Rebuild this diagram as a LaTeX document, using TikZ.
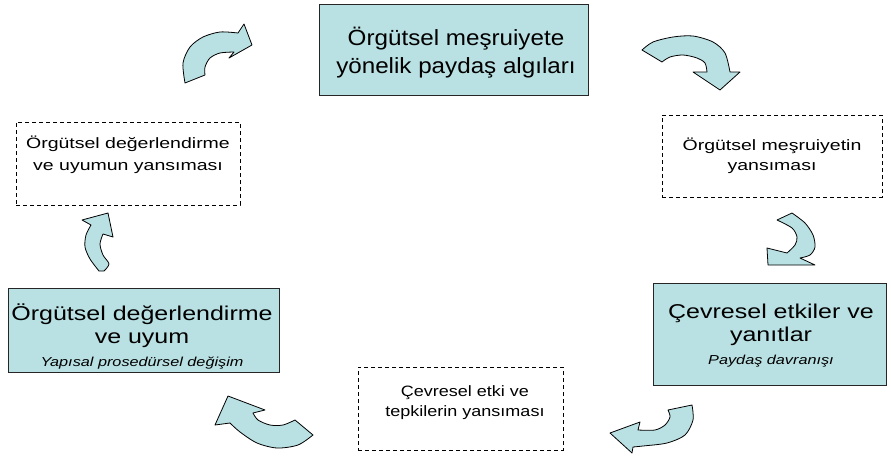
\documentclass[tikz,border=0pt]{standalone}
\usepackage{fontspec}
\setmainfont{Liberation Sans}
\usepackage{graphicx}
\definecolor{boxfill}{RGB}{185,224,226}
\newcommand\boxtext[4]{\scalebox{#1}[1]{\fontsize{#2}{#3}\selectfont\begin{tabular}{@{}c@{}}#4\end{tabular}}}
\begin{document}
\begin{tikzpicture}[x=1pt,y=-1pt,
  solidbox/.style={draw=black!85,line width=0.9pt,fill=boxfill,inner sep=0pt},
  dashbox/.style={draw=black,line width=0.8pt,dash pattern=on 4pt off 3pt,inner sep=0pt},
  arr/.style={fill=boxfill,draw=black,line width=0.8pt,line join=round},
  lbl/.style={inner sep=0pt}]
\useasboundingbox (0,0) rectangle (891,455);
% boxes
\node[solidbox,minimum width=269pt,minimum height=91pt] (top) at (453.5,49.5) {};
\node[solidbox,minimum width=271pt,minimum height=84pt] (left) at (143.5,330) {};
\node[solidbox,minimum width=233pt,minimum height=102pt] (right) at (769.5,334) {};
\node[dashbox,minimum width=224pt,minimum height=83pt] (ldash) at (128,163.5) {};
\node[dashbox,minimum width=220pt,minimum height=82pt] (rdash) at (772,156) {};
\node[dashbox,minimum width=205pt,minimum height=83pt] (bdash) at (460.5,408.5) {};
% texts
\node[lbl] (toptxt) at (456,54) {\boxtext{1.1}{22}{28}{Örgütsel meşruiyete\\yönelik paydaş algıları}};
\node[lbl] (lefttxt) at (142,339) {\boxtext{1.25}{20}{23}{Örgütsel değerlendirme\\ve uyum\\{\fontsize{13}{15}\selectfont\itshape Yapısal prosedürsel değişim}}};
\node[lbl] (righttxt) at (771,337) {\boxtext{1.25}{20}{23}{Çevresel etkiler ve\\yanıtlar\\{\fontsize{13}{15}\selectfont\itshape Paydaş davranışı}}};
\node[lbl] (ldashtxt) at (128,155) {\boxtext{1.3}{15}{22}{Örgütsel değerlendirme\\ve uyumun yansıması}};
\node[lbl] (rdashtxt) at (772,156) {\boxtext{1.3}{15}{20}{Örgütsel meşruiyetin\\yansıması}};
\node[lbl] (bdashtxt) at (465,402) {\boxtext{1.2}{15}{20}{Çevresel etki ve\\tepkilerin yansıması}};
% curved block arrows
\filldraw[arr] plot[smooth] coordinates {(185,83) (183,63) (190,47) (203,37) (220,32) (238,33)} -- (244,24) -- (252,45) -- (229,58)
  -- plot[smooth] coordinates {(234,52) (220,53) (210,58) (205,67) (205,75)} -- cycle;
\filldraw[arr] plot[smooth] coordinates {(642,50) (653,42) (673,37) (693,36) (713,42) (725,53) (730,72)} -- (740,72) -- (720,90) -- (693,72)
  -- plot[smooth] coordinates {(707,72) (705,63) (697,58) (683,55) (670,57) (662,62)} -- cycle;
\filldraw[arr] plot[smooth] coordinates {(792,213) (805,223) (813,235) (815,247) (810,255) (800,258)} -- (815,265) -- (768,265) -- (767,248)
  -- plot[smooth] coordinates {(787,253) (795,245) (797,237) (792,228) (777,220)} -- cycle;
\filldraw[arr] plot[smooth] coordinates {(692,405) (693,420) (685,435) (667,443) (643,446) (633,447)} -- (632,453) -- (610,433) -- (640,422)
  -- plot[smooth] coordinates {(638,430) (655,430) (665,425) (670,417) (668,410)} -- cycle;
\filldraw[arr] plot[smooth] coordinates {(313,435) (298,445) (277,448) (257,443) (240,432) (230,423)} -- (215,425) -- (228,396) -- (265,410)
  -- plot[smooth] coordinates {(253,413) (258,420) (270,425) (283,425) (295,420)} -- cycle;
\filldraw[arr] plot[smooth] coordinates {(99,271) (90,259) (85,247) (86,235) (91,225)} -- (82,220) -- (108,213) -- (113,237)
  -- plot[smooth] coordinates {(103,234) (100,244) (103,255) (109,264) (104,271)} -- cycle;
\end{tikzpicture}
\end{document}
